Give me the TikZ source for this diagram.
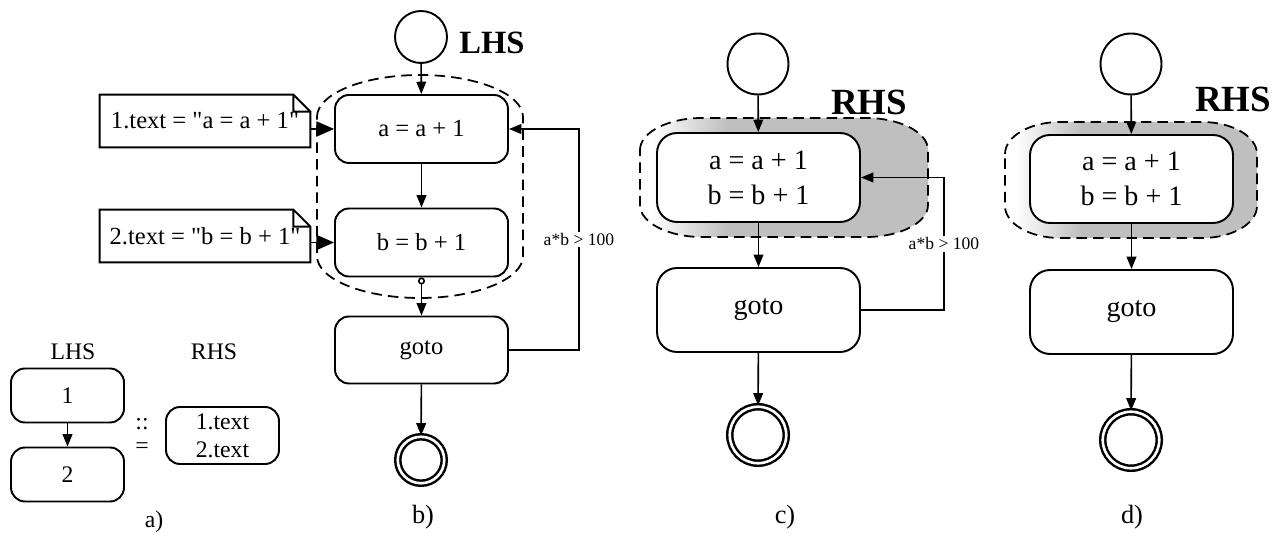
\documentclass[tikz,border=0pt]{standalone}
\usepackage{fontspec}
\setmainfont{Liberation Serif}
\usetikzlibrary{positioning,arrows.meta}

% light on the left, grey from a quarter of the way in
\pgfdeclarehorizontalshading{rhsfade}{100bp}{color(0bp)=(white); color(27bp)=(white);
  color(40bp)=(black!25); color(100bp)=(black!25)}

\begin{document}
\begin{tikzpicture}[x=0.02cm, y=-0.02cm,
  every node/.style={font=\fontsize{14}{16}\selectfont},
  small/.style={font=\fontsize{13.5}{16}\selectfont},
  box/.style={draw, line width=1.1pt, rounded corners=0.28cm, fill=white, align=center},
  bigbox/.style={box, rounded corners=0.4cm, minimum width=4.06cm,
                 font=\fontsize{16}{20}\selectfont},
  note/.style={minimum width=4.2cm, minimum height=1.04cm, inner sep=0pt},
  initial/.style={circle, draw, line width=1.1pt, fill=white},
  final/.style={circle, draw, double, line width=1.4pt, double distance=1.5pt},
  flow/.style={-{Triangle[length=7pt, width=5.5pt]}, line width=0.9pt},
  feed/.style={-{Triangle[length=10pt, width=8.5pt]}, line width=1.1pt},
  rgn/.style={dash pattern=on 6pt off 3.5pt, line width=1pt},
  guard/.style={fill=white, inner sep=1pt, font=\fontsize{10}{12}\selectfont},
  rhs/.style={font=\fontsize{21}{24}\selectfont\bfseries},
  caption/.style={font=\fontsize{15}{18}\selectfont},
  % x1, y1, x2, y2, corner x radius, corner y radius
  region/.style n args={6}{insert path={
    (#1,{#2+#6}) .. controls (#1,{#2+0.45*#6}) and ({#1+0.45*#5},#2) .. ({#1+#5},#2)
    -- ({#3-#5},#2) .. controls ({#3-0.45*#5},#2) and (#3,{#2+0.45*#6}) .. (#3,{#2+#6})
    -- (#3,{#4-#6}) .. controls (#3,{#4-0.45*#6}) and ({#3-0.45*#5},#4) .. ({#3-#5},#4)
    -- ({#1+#5},#4) .. controls ({#1+0.45*#5},#4) and (#1,{#4-0.45*#6}) .. (#1,{#4-#6})
    -- cycle}}]
  \useasboundingbox (0,0) rectangle (1285,536);

  % a) the rule
  \node[small] (lhsa) at (73,352) {LHS};
  \node[small] (rhsa) at (214,352) {RHS};
  \node[box, small, minimum width=2.26cm, minimum height=1.08cm] (r1) at (67.5,395.5) {1};
  \node[box, small, minimum width=2.26cm, minimum height=1.08cm] (r2) at (67.5,474.5) {2};
  \node[small] (dc) at (142,424) {::};
  \node[small] (eq) at (142,448) {=};
  \node[box, small, minimum width=2.26cm, minimum height=1.14cm] (rt) at (222.5,435.5)
        {1.text\\2.text};
  \node[small] (capa) at (154,522) {a)};
  \draw[flow] (r1) -- (r2);

  % b) matched part of the graph
  \draw[rgn] [region={317}{75}{523}{298}{103}{42}];
  \node[initial, minimum size=1.04cm] (s1) at (421,37) {};
  \node[font=\fontsize{18.5}{20}\selectfont\bfseries] (lhs) at (492,43) {LHS};
  \node[box, minimum width=3.46cm, minimum height=1.36cm] (a1) at (421.5,129) {a = a + 1};
  \node[box, minimum width=3.46cm, minimum height=1.36cm] (b1) at (421.5,242.5) {b = b + 1};
  \node[box, minimum width=3.46cm, minimum height=1.34cm] (g1) at (421.5,350) {goto};
  \node[final, minimum size=0.93cm] (e1) at (421,460) {};
  \node[caption] (capb) at (423,517) {b)};
  \node[note] (n1) at (205,121) {1.text = \textquotedbl a = a + 1\textquotedbl};
  \node[note] (n2) at (205,236) {2.text = \textquotedbl b = b + 1\textquotedbl};
  \foreach \n in {n1,n2}
    \draw[line width=1.1pt] (\n.south west) -- (\n.north west) -- ([xshift=-0.34cm]\n.north east)
      -- ([yshift=-0.34cm]\n.north east) -- (\n.south east) -- cycle
      ([xshift=-0.34cm]\n.north east) |- ([yshift=-0.34cm]\n.north east);

  \draw[flow] (s1) -- (a1);
  \draw[flow] (a1) -- (b1);
  \draw[{Circle[open, length=4pt, width=4pt]}-{Triangle[length=7pt, width=5.5pt]}, line width=0.9pt]
        (b1) -- (g1);
  \draw[flow] (g1) -- (e1);
  \draw[feed] (a1.west -| n1.east) -- (a1.west);
  \draw[feed] (b1.west -| n2.east) -- (b1.west);
  \draw[flow] (g1.east) -- ++(70,0) |- node[guard, pos=0.25] {a*b > 100} (a1.east);

  % c) rewritten, loop kept
  \path[draw, rgn, shade, shading=rhsfade] [region={640}{118}{928}{237}{62}{32}];
  \node[initial, minimum size=1.22cm] (s2) at (758,64) {};
  \node[rhs] (rhsc) at (869,102) {RHS};
  \node[bigbox, minimum height=1.78cm] (c1) at (758.5,177.5) {a = a + 1\\b = b + 1};
  \node[bigbox, minimum height=1.68cm] (g2) at (758.5,310) {goto};
  \node[final, minimum size=1.13cm] (e2) at (758,435) {};
  \node[caption] (capc) at (785,517) {c)};
  \draw[flow] (s2) -- (c1);
  \draw[flow] (c1) -- (g2);
  \draw[flow] (g2) -- (e2);
  \draw[flow] (g2.east) -- ++(83,0) |- node[guard, pos=0.25] {a*b > 100} (c1.east);

  % d) rewritten, no loop
  \path[draw, rgn, shade, shading=rhsfade] [region={1005}{122}{1257}{238}{55}{32}];
  \node[initial, minimum size=1.22cm] (s3) at (1131,64) {};
  \node[rhs] (rhsd) at (1233,99) {RHS};
  \node[bigbox, minimum height=1.76cm] (d1) at (1131.5,179) {a = a + 1\\b = b + 1};
  \node[bigbox, minimum height=1.68cm] (g3) at (1131.5,312) {goto};
  \node[final, minimum size=1.13cm] (e3) at (1131,440) {};
  \node[caption] (capd) at (1132,517) {d)};
  \draw[flow] (s3) -- (d1);
  \draw[flow] (d1) -- (g3);
  \draw[flow] (g3) -- (e3);
\end{tikzpicture}
\end{document}
